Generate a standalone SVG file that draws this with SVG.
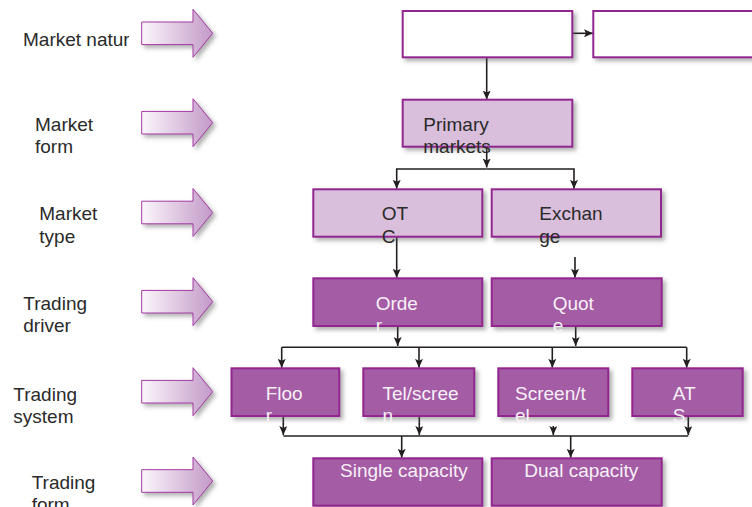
<svg xmlns="http://www.w3.org/2000/svg" xmlns:xlink="http://www.w3.org/1999/xlink" width="752" height="507" viewBox="0 0 752 507">
<defs>
<linearGradient id="ag" x1="0" y1="0" x2="1" y2="0">
<stop offset="0" stop-color="#fbf6fb"/>
<stop offset="1" stop-color="#c39ac8"/>
</linearGradient>
<filter id="sh" x="-10%" y="-20%" width="130%" height="160%">
<feDropShadow dx="3" dy="3" stdDeviation="2" flood-color="#555" flood-opacity="0.45"/>
</filter>
<path id="blk" d="M141.7,-11.3 H193 V-24 L212.7,0 L193,24 V11.3 H141.7 Z"/>
<marker id="ah" markerUnits="userSpaceOnUse" markerWidth="10" markerHeight="8" refX="9" refY="4" orient="auto">
<path d="M0,0 L9,4 L0,8 L2,4 Z" fill="#231f20"/>
</marker>
<clipPath id="clipL"><rect x="0" y="0" width="129" height="507"/></clipPath>
</defs>
<style>
.lbl{font-family:"Liberation Sans",Arial,sans-serif;font-size:19px;fill:#2a2a2a}
.bx{stroke:#92278f;stroke-width:2;filter:url(#sh)}
.w{fill:#ffffff}
.lt{fill:#d9bfdc}
.dk{fill:#a45ba5}
.tl{font-family:"Liberation Sans",Arial,sans-serif;font-size:19px;fill:#2a2a2a}
.td{font-family:"Liberation Sans",Arial,sans-serif;font-size:19px;fill:#f7f0f7}
.ba{fill:url(#ag);stroke:#a33aa3;stroke-width:1;filter:url(#sh)}
.cn{fill:none;stroke:#231f20;stroke-width:1.6}
</style>

<g id="level-arrows">
<use xlink:href="#blk" href="#blk" class="ba" transform="translate(0,33.3)"/>
<use xlink:href="#blk" href="#blk" class="ba" transform="translate(0,122.7)"/>
<use xlink:href="#blk" href="#blk" class="ba" transform="translate(0,212.5)"/>
<use xlink:href="#blk" href="#blk" class="ba" transform="translate(0,301.7)"/>
<use xlink:href="#blk" href="#blk" class="ba" transform="translate(0,391.7)"/>
<use xlink:href="#blk" href="#blk" class="ba" transform="translate(0,481)"/>
</g>

<g id="level-labels">
<text class="lbl" x="23" y="45.7" clip-path="url(#clipL)">Market natur</text>
<text class="lbl" x="35" y="131">Market<tspan x="35" y="153.3">form</tspan></text>
<text class="lbl" x="39.3" y="220">Market<tspan x="39.3" y="242.5">type</tspan></text>
<text class="lbl" x="23.3" y="310">Trading<tspan x="23.3" y="332.3">driver</tspan></text>
<text class="lbl" x="13.3" y="401">Trading<tspan x="13.3" y="422.7">system</tspan></text>
<text class="lbl" x="31.7" y="489.3">Trading<tspan x="31.7" y="511">form</tspan></text>
</g>

<g id="connectors">
<path class="cn" d="M572.3,33.3 H593" marker-end="url(#ah)"/>
<path class="cn" d="M486.7,57.3 V99.5" marker-end="url(#ah)"/>
<path class="cn" d="M486.7,147 V167.5" marker-end="url(#ah)"/>
<path class="cn" d="M486.7,169 H396.7 V188.8" marker-end="url(#ah)"/>
<path class="cn" d="M486.7,169 H574 V188.8" marker-end="url(#ah)"/>
<path class="cn" d="M396.7,237 V277.8" marker-end="url(#ah)"/>
<path class="cn" d="M575,257 V277.8" marker-end="url(#ah)"/>
<path class="cn" d="M397.7,326 V346" marker-end="url(#ah)"/>
<path class="cn" d="M575.7,326 V346" marker-end="url(#ah)"/>
<path class="cn" d="M281.7,347.3 H686.7"/>
<path class="cn" d="M281.7,347.3 V367.8" marker-end="url(#ah)"/>
<path class="cn" d="M419,347.3 V367.8" marker-end="url(#ah)"/>
<path class="cn" d="M552.3,347.3 V367.8" marker-end="url(#ah)"/>
<path class="cn" d="M686.7,347.3 V367.8" marker-end="url(#ah)"/>
<path class="cn" d="M283.3,416 V435" marker-end="url(#ah)"/>
<path class="cn" d="M419.3,416 V435" marker-end="url(#ah)"/>
<path class="cn" d="M553.3,426 V435" marker-end="url(#ah)"/>
<path class="cn" d="M688.3,416 V435" marker-end="url(#ah)"/>
<path class="cn" d="M283.3,436 H688.3"/>
<path class="cn" d="M401.7,436 V457.8" marker-end="url(#ah)"/>
<path class="cn" d="M570.7,436 V457.8" marker-end="url(#ah)"/>
</g>

<g id="node-nature-a"><rect class="bx w" x="402.7" y="11" width="169.6" height="46.3"/></g>
<g id="node-nature-b"><rect class="bx w" x="593.3" y="11" width="170" height="46.3"/></g>
<g id="node-primary"><rect class="bx lt" x="402.7" y="99.7" width="169.6" height="47"/>
<text class="tl" x="423.3" y="131">Primary<tspan x="423.3" y="153.3">markets</tspan></text></g>
<g id="node-otc"><rect class="bx lt" x="313.3" y="189.3" width="169" height="47.4"/>
<text class="tl" x="381.7" y="220.3">OT<tspan x="381.7" y="242.5">C</tspan></text></g>
<g id="node-exchange"><rect class="bx lt" x="491.7" y="189.3" width="169.3" height="47.4"/>
<text class="tl" x="539.3" y="220.3">Exchan<tspan x="539.3" y="242.5">ge</tspan></text></g>
<g id="node-order"><rect class="bx dk" x="313.3" y="278.3" width="169" height="47.7"/>
<text class="td" x="375.7" y="310">Orde<tspan x="375.7" y="332">r</tspan></text></g>
<g id="node-quote"><rect class="bx dk" x="491.7" y="278.3" width="170" height="47.7"/>
<text class="td" x="552.7" y="310">Quot<tspan x="552.7" y="332">e</tspan></text></g>
<g id="node-floor"><rect class="bx dk" x="231.5" y="368.3" width="107.8" height="47.7"/>
<text class="td" x="265.7" y="400">Floo<tspan x="265.7" y="422">r</tspan></text></g>
<g id="node-telscreen"><rect class="bx dk" x="363.3" y="368.3" width="111" height="47.7"/>
<text class="td" x="382.5" y="400">Tel/scree<tspan x="382.5" y="422">n</tspan></text></g>
<g id="node-screentel"><rect class="bx dk" x="498.3" y="368.3" width="110" height="47.7"/>
<text class="td" x="515" y="400">Screen/t<tspan x="515" y="422">el</tspan></text></g>
<g id="node-ats"><rect class="bx dk" x="632.3" y="368.3" width="110.4" height="47.7"/>
<text class="td" x="672.7" y="400">AT<tspan x="672.7" y="422">S</tspan></text></g>
<g id="node-single"><rect class="bx dk" x="313.3" y="458.3" width="169" height="47.4"/>
<text class="td" x="340" y="477.3">Single capacity</text></g>
<g id="node-dual"><rect class="bx dk" x="491.7" y="458.3" width="170" height="47.4"/>
<text class="td" x="524.3" y="477.3">Dual capacity</text></g>
</svg>
